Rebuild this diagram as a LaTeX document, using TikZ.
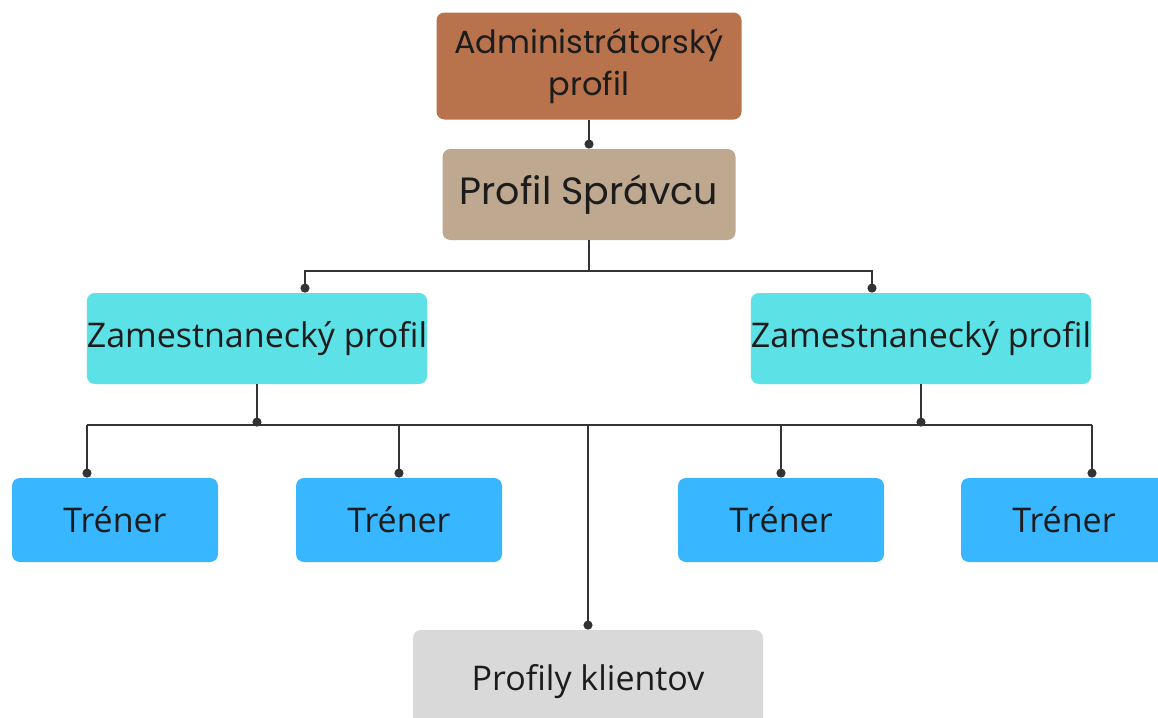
\documentclass[tikz,border=0pt]{standalone}
\usepackage{fontspec}
\setmainfont{Open Sans}
\newfontfamily\headfont{Poppins}
\usetikzlibrary{arrows.meta}

\definecolor{admcol}{HTML}{B8724C}
\definecolor{sprcol}{HTML}{BEA88F}
\definecolor{zamcol}{HTML}{5CE1E6}
\definecolor{trcol}{HTML}{38B6FF}
\definecolor{klicol}{HTML}{D9D9D9}
\definecolor{linecol}{HTML}{333333}
\definecolor{txtcol}{HTML}{1C1C1C}

\begin{document}
\begin{tikzpicture}[x=0.5pt, y=-0.5pt,
    box/.style={rounded corners=4pt, inner sep=0pt, text=txtcol, align=center},
    line/.style={draw=linecol, line width=1pt},
    link/.style={line, -{Circle[length=4.5pt]}}]
        \clip (0,0) rectangle (1158,718);
        \fill[white] (0,0) rectangle (1158,718);
        % Nodes
        \node (adm) [box, fill=admcol, minimum width=152.5pt, minimum height=53.5pt, font=\headfont\fontsize{16}{21}\selectfont] at (589,66) {Administrátorský\\profil};
        \node (spr) [box, fill=sprcol, minimum width=146.5pt, minimum height=45.5pt, font=\headfont\fontsize{19}{22}\selectfont] at (589,194.5) {Profil Správcu};
        \node (zamL) [box, fill=zamcol, minimum width=168.5pt, minimum height=45.5pt, font=\fontsize{17}{20}\selectfont] at (257,338.5) {Zamestnanecký profil};
        \node (zamR) [box, fill=zamcol, minimum width=168.5pt, minimum height=45.5pt, font=\fontsize{17}{20}\selectfont] at (921,338.5) {Zamestnanecký profil};
        \node (tr1) [box, fill=trcol, minimum width=103pt, minimum height=42pt, font=\fontsize{17}{20}\selectfont] at (115,520) {Tréner};
        \node (tr2) [box, fill=trcol, minimum width=103pt, minimum height=42pt, font=\fontsize{17}{20}\selectfont] at (399,520) {Tréner};
        \node (tr3) [box, fill=trcol, minimum width=103pt, minimum height=42pt, font=\fontsize{17}{20}\selectfont] at (781,520) {Tréner};
        \node (tr4) [box, fill=trcol, minimum width=103pt, minimum height=42pt, font=\fontsize{17}{20}\selectfont] at (1064,520) {Tréner};
        \node (kli) [box, fill=klicol, minimum width=175pt, minimum height=52pt, font=\fontsize{17}{20}\selectfont] at (588,682) {Profily klientov};

        % Edges
        \coordinate (busL) at (87,425);
        \coordinate (busR) at (1092,425);
        \draw[link] (adm) -- (spr);
        \draw[link] (spr.south) -- ++(0,31) -| ([xshift=24pt]zamL.north);
        \draw[link] (spr.south) -- ++(0,31) -| ([xshift=-24.5pt]zamR.north);
        \draw[line] (busL) -- (busR);
        \draw[link] (zamL.south) -- ([yshift=-0.8pt]zamL.south |- busL);
        \draw[link] (zamR.south) -- ([yshift=-0.8pt]zamR.south |- busL);
        \draw[link] (busL) -- ([xshift=-14pt]tr1.north);
        \draw[link] (tr2.north |- busL) -- (tr2.north);
        \draw[link] (tr3.north |- busL) -- (tr3.north);
        \draw[link] (busR) -- ([xshift=14pt]tr4.north);
        \draw[link] (kli.north |- busL) -- (kli.north);
    \end{tikzpicture}
\end{document}
